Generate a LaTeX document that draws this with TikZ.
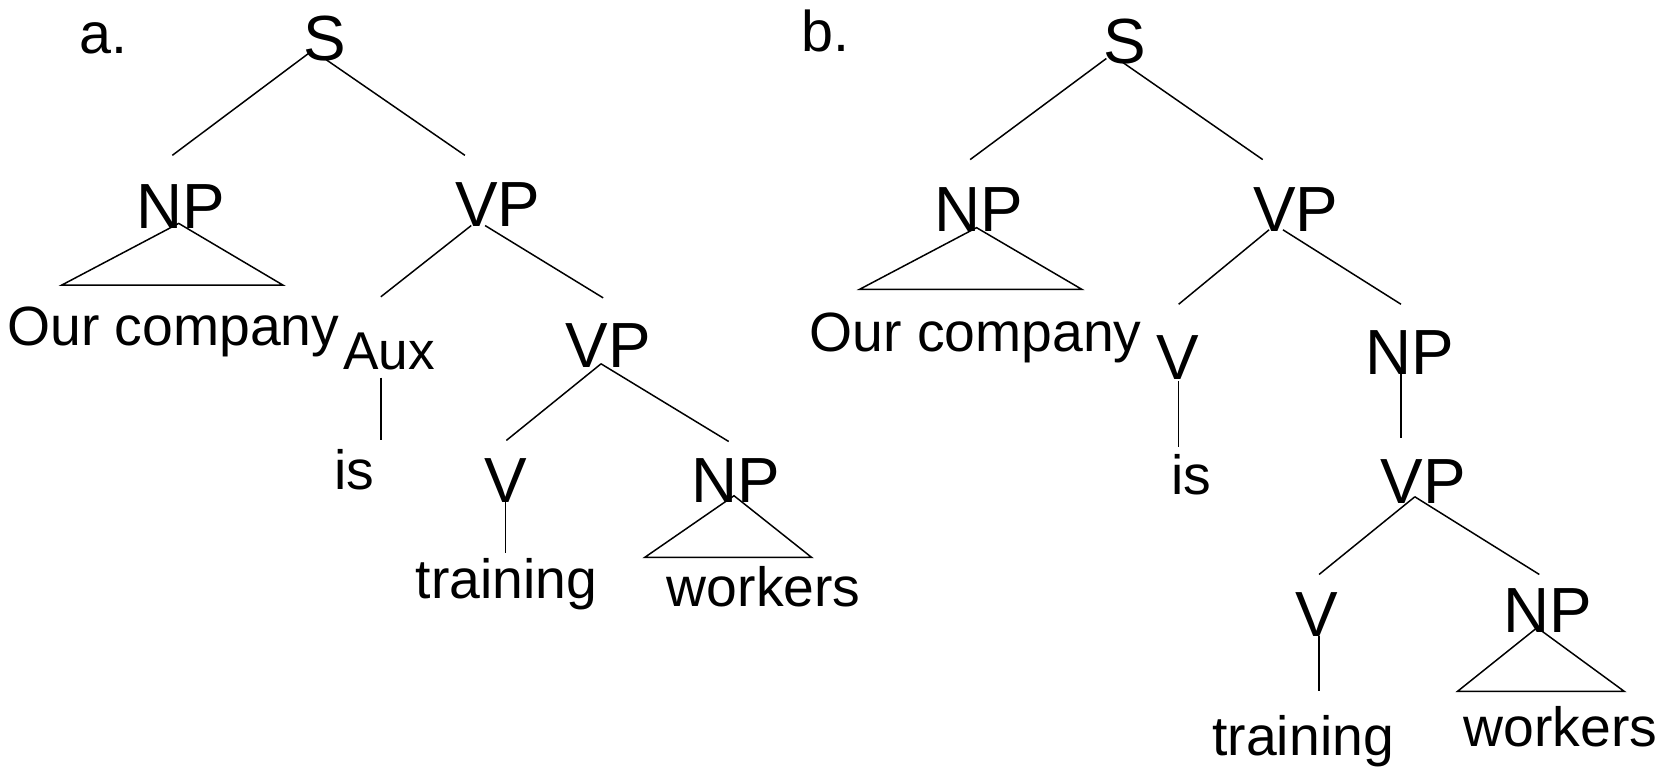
\documentclass[tikz,border=0pt]{standalone}
\usepackage{fontspec}
\setmainfont{Liberation Sans}
\usetikzlibrary{calc}
\begin{document}
\begin{tikzpicture}[x=0.5pt,y=-0.5pt,
  cat/.style={font=\fontsize{30}{36}\selectfont, inner sep=0pt, anchor=base},
  aux/.style={font=\fontsize{25}{30}\selectfont, inner sep=0pt, anchor=base},
  word/.style={font=\fontsize{26}{31}\selectfont, inner sep=0pt, anchor=base},
  lbl/.style={font=\fontsize{27}{32}\selectfont, inner sep=0pt, anchor=base},
  edge/.style={line width=0.7pt, black}]
\useasboundingbox (0,0) rectangle (1568,725);
% ---------- tree a ----------
\node[lbl] (la) at (97,50) {a.};
\node[cat] (Sa) at (305,57) {S};
\node[cat] (NPa) at (170,215) {NP};
\node[cat] (VPa) at (468,213) {VP};
\node[word] (OCa) at (163,325) {Our company};
\node[aux] (Aux) at (366,347) {Aux};
\node[cat] (VPa2) at (572,345) {VP};
\node[word] (isa) at (333,460) {is};
\node[cat] (Va) at (475,472) {V};
\node[cat] (NPa2) at (692,472) {NP};
\node[word] (tra) at (476,563) {training};
\node[word] (wka) at (718,570) {workers};
\draw[edge] ($(Sa.base)+(-12,-9)$) -- ($(NPa.base)+(-8,-69)$);
\draw[edge] ($(Sa.base)+(0,-2)$) -- ($(VPa.base)+(-31,-67)$);
\draw[edge] ($(NPa.base)+(-2,-5)$) -- ($(NPa.base)+(-112,53)$) -- ($(NPa.base)+(96,53)$) -- cycle;
\draw[edge] ($(VPa.base)+(-25,-1)$) -- ($(Aux.base)+(-8,-68)$);
\draw[edge] ($(VPa.base)+(-12,-1)$) -- ($(VPa2.base)+(-5,-65)$);
\draw[edge] ($(Aux.base)+(-8,8)$) -- ($(isa.base)+(25,-46)$);
\draw[edge] ($(VPa2.base)+(-7,-3)$) -- ($(Va.base)+(1,-58)$);
\draw[edge] ($(VPa2.base)+(-7,-3)$) -- ($(NPa2.base)+(-7,-57)$);
\draw[edge] ($(Va.base)+(0,-4)$) -- ($(tra.base)+(-1,-43)$);
\draw[edge] ($(NPa2.base)+(-2,-6)$) -- ($(NPa2.base)+(-86,52)$) -- ($(NPa2.base)+(71,52)$) -- cycle;
% ---------- tree b ----------
\node[lbl] (lb) at (776,48) {b.};
\node[cat] (Sb) at (1057,60) {S};
\node[cat] (NPb) at (920,218) {NP};
\node[cat] (VPb) at (1218,218) {VP};
\node[word] (OCb) at (917,330) {Our company};
\node[cat] (Vb) at (1107,357) {V};
\node[cat] (NPb2) at (1325,352) {NP};
\node[word] (isb) at (1120,465) {is};
\node[cat] (VPb3) at (1338,473) {VP};
\node[cat] (Vb2) at (1238,598) {V};
\node[cat] (NPb3) at (1455,595) {NP};
\node[word] (trb) at (1225,710) {training};
\node[word] (wkb) at (1467,702) {workers};
\draw[edge] ($(Sb.base)+(-17,-5)$) -- ($(NPb.base)+(-8,-68)$);
\draw[edge] ($(Sb.base)+(-4,-3)$) -- ($(VPb.base)+(-31,-68)$);
\draw[edge] ($(NPb.base)+(-2,-4)$) -- ($(NPb.base)+(-112,54)$) -- ($(NPb.base)+(97,54)$) -- cycle;
\draw[edge] ($(VPb.base)+(-25,-2)$) -- ($(Vb.base)+(1,-71)$);
\draw[edge] ($(VPb.base)+(-12,-2)$) -- ($(NPb2.base)+(-8,-66)$);
\draw[edge] ($(Vb.base)+(1,1)$) -- ($(isb.base)+(-12,-45)$);
\draw[edge] ($(NPb2.base)+(-8,-2)$) -- ($(VPb3.base)+(-21,-61)$);
\draw[edge] ($(VPb3.base)+(-8,-6)$) -- ($(Vb2.base)+(2,-58)$);
\draw[edge] ($(VPb3.base)+(-8,-6)$) -- ($(NPb3.base)+(-8,-55)$);
\draw[edge] ($(Vb2.base)+(2,0)$) -- ($(trb.base)+(15,-60)$);
\draw[edge] ($(NPb3.base)+(-10,-5)$) -- ($(NPb3.base)+(-85,55)$) -- ($(NPb3.base)+(72,55)$) -- cycle;
\end{tikzpicture}
\end{document}
